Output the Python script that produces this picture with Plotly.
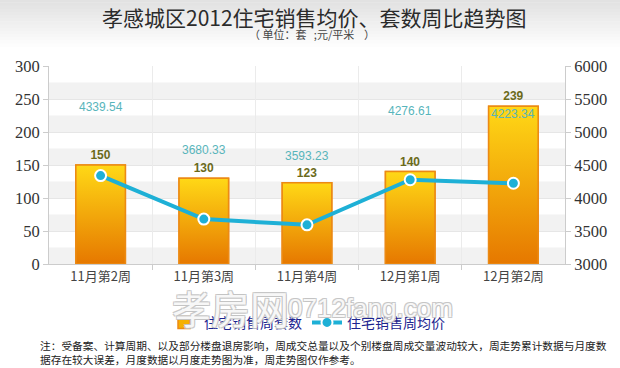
import plotly.graph_objects as go

categories = ["11月第2周", "11月第3周", "11月第4周", "12月第1周", "12月第2周"]
units = [150, 130, 123, 140, 239]
prices = [4339.54, 3680.33, 3593.23, 4276.61, 4223.34]
left_ticks = [0, 50, 100, 150, 200, 250, 300]
right_ticks = [3000, 3500, 4000, 4500, 5000, 5500, 6000]

xpos = list(range(len(categories)))
bar_w = 0.48

fig = go.Figure()

# background gradient at the top of the picture
n = 16
for i in range(n):
    g = int(226 + (255 - 226) * i / (n - 1))
    fig.add_shape(type="rect", xref="paper", yref="paper",
                  x0=-0.2, x1=1.2, y0=1.335 - (i + 1) * 0.016, y1=1.335 - i * 0.016 + 0.002,
                  fillcolor=f"rgb({g},{g},{g})", line_width=0, layer="below")

# alternating horizontal bands
for b in range(0, 300, 50):
    fig.add_shape(type="rect", xref="paper", yref="y", x0=0, x1=1, y0=b, y1=b + 25,
                  fillcolor="#f2f2f2", line_width=0, layer="below")

fig.add_trace(go.Bar(
    x=xpos, y=units, name="住宅销售周套数", width=bar_w,
    marker=dict(color="#f5b000", line=dict(color="#ec8a14", width=1.5)),
    texttemplate="<b>%{y}</b>", textposition="outside",
    textfont=dict(color="#6b6a1a", size=12, family="Liberation Sans"),
    cliponaxis=False,
))

# gradient fill of each bar
for xi, v in zip(xpos, units):
    fig.add_trace(go.Scatter(
        x=[xi - bar_w / 2, xi + bar_w / 2, xi + bar_w / 2, xi - bar_w / 2, xi - bar_w / 2],
        y=[0, 0, v, v, 0], mode="lines", fill="toself",
        fillgradient=dict(type="vertical", colorscale=[[0, "#e67800"], [1, "#ffd816"]]),
        line=dict(color="#ec8a14", width=1.5), showlegend=False, hoverinfo="skip",
    ))

fig.add_trace(go.Scatter(
    x=xpos, y=prices, name="住宅销售周均价", yaxis="y2",
    mode="lines+markers",
    line=dict(color="#1eb0d6", width=4),
    marker=dict(color="#1eb0d6", size=11, line=dict(color="white", width=2)),
))

for xi, p in zip(xpos, prices):
    fig.add_annotation(x=xi, y=p, yref="y2", text=f"{p:.2f}", showarrow=False,
                       yshift=69, font=dict(color="#58b5bb", size=12, family="Liberation Sans"))

fig.add_annotation(xref="paper", yref="paper", x=0.515, y=1.0, yshift=49, yanchor="middle",
                   text="孝感城区2012住宅销售均价、套数周比趋势图", showarrow=False,
                   font=dict(size=21, color="#2b2b2b", family="Noto Sans CJK SC"))
fig.add_annotation(xref="paper", yref="paper", x=0.51, y=1.0, yshift=32, yanchor="middle",
                   text="（ 单位：套   ;元/平米    ）", showarrow=False,
                   font=dict(size=11, color="#444", family="Noto Sans CJK SC"))

# watermark
wm_shadow = ("1px 1px 0 #c4c4c4, -1px -1px 0 #c4c4c4, 1px -1px 0 #c4c4c4, "
             "-1px 1px 0 #c4c4c4")
fig.add_annotation(xref="paper", yref="paper", x=0.351, y=-0.217, yanchor="middle", xanchor="center",
                   text="孝房网", showarrow=False,
                   font=dict(size=39, color="rgba(255,255,255,0.9)", family="Noto Sans CJK SC",
                             shadow=wm_shadow))
fig.add_annotation(xref="paper", yref="paper", x=0.624, y=-0.222, yanchor="middle", xanchor="center",
                   text="0712fang.com", showarrow=False,
                   font=dict(size=26, color="rgba(255,255,255,0.9)", family="Liberation Sans",
                             shadow=wm_shadow))

fig.add_annotation(xref="paper", yref="paper", x=-0.022, y=-0.365, xanchor="left", yanchor="top",
                   align="left", showarrow=False,
                   text="注：受备案、计算周期、以及部分楼盘退房影响，周成交总量以及个别楼盘周成交量波动较大，周走势累计数据与月度数<br>据存在较大误差，月度数据以月度走势图为准，周走势图仅作参考。",
                   font=dict(size=10.7, color="#222", family="Noto Sans CJK SC"))

fig.update_layout(
    width=620, height=368,
    margin=dict(l=49, r=55, t=66, b=104, autoexpand=False),
    paper_bgcolor="white", plot_bgcolor="white",
    showlegend=True,
    legend=dict(orientation="h", x=0.5, xanchor="center", y=-0.297, yanchor="middle",
                font=dict(size=14, color="#1c2490", family="Noto Sans CJK SC"),
                bgcolor="rgba(0,0,0,0)", traceorder="normal"),
    xaxis=dict(range=[-0.5, 4.5], tickvals=xpos, ticktext=categories,
               showgrid=False, showline=True, linecolor="#cccccc", zeroline=False,
               ticks="", automargin=False,
               tickfont=dict(size=13, color="#444", family="Noto Sans CJK SC")),
    xaxis2=dict(range=[-0.5, 4.5], overlaying="x", tickvals=[0.5, 1.5, 2.5, 3.5],
                showticklabels=False, showgrid=True, gridcolor="#ebebeb", zeroline=False,
                ticks="outside", tickcolor="#cccccc", ticklen=5, side="bottom", matches="x"),
    yaxis=dict(range=[0, 300], tickvals=left_ticks, showgrid=True, gridcolor="#e6e6e6",
               showline=True, linecolor="#cccccc", ticks="outside", tickcolor="#cccccc",
               ticklen=5, zeroline=False, automargin=False,
               tickfont=dict(size=16.5, color="#333", family="Liberation Serif")),
    yaxis2=dict(range=[3000, 6000], tickvals=right_ticks, overlaying="y", side="right",
                showgrid=False, showline=True, linecolor="#cccccc", ticks="outside",
                tickcolor="#cccccc", ticklen=5, zeroline=False, automargin=False,
                tickfont=dict(size=16.5, color="#333", family="Liberation Serif")),
)

# invisible trace to show the boundary grid/ticks axis
fig.add_trace(go.Scatter(x=[0], y=[0], xaxis="x2", mode="markers", marker=dict(opacity=0),
                         showlegend=False, hoverinfo="skip"))

fig.write_html("out.html", config={"displayModeBar": False},
               post_script="document.body.style.margin='0';")
